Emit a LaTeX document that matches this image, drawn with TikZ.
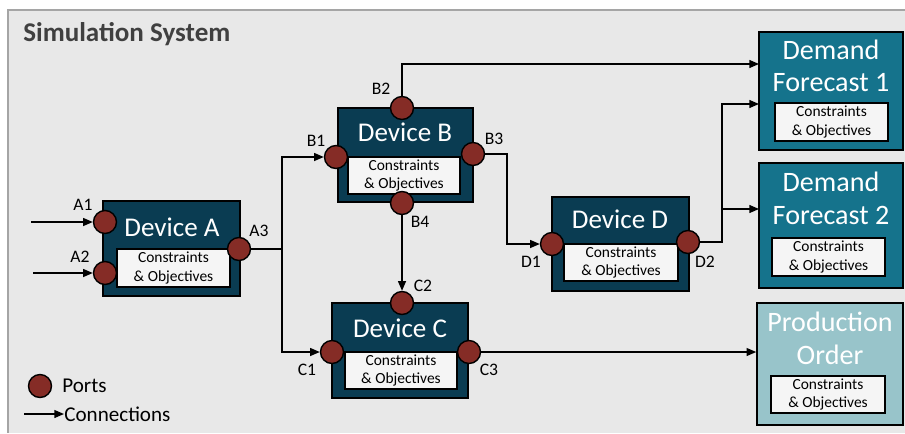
\documentclass[tikz,border=0pt]{standalone}
\usepackage{fontspec}
\setmainfont{Carlito}
\usetikzlibrary{arrows.meta, calc, positioning}
\definecolor{devnavy}{RGB}{10,60,82}
\definecolor{demandteal}{RGB}{21,115,140}
\definecolor{ordermint}{RGB}{152,196,202}
\definecolor{portred}{RGB}{133,44,38}
\definecolor{panelgray}{RGB}{232,232,232}
\definecolor{panelline}{RGB}{165,165,165}
\definecolor{titlegray}{RGB}{64,64,64}
\definecolor{cofill}{RGB}{245,245,245}

\begin{document}
\begin{tikzpicture}[x=0.02cm, y=-0.02cm,
    device/.style={draw=black, line width=0.9pt, fill=devnavy, inner sep=0pt},
    cobox/.style={draw=black, line width=0.6pt, fill=cofill, inner sep=0pt, align=center, font=\fontsize{8.8}{10.8}\selectfont},
    devtitle/.style={text=white, font=\fontsize{15.4}{18}\selectfont, inner sep=0pt},
    endtitle/.style={text=white, align=center, font=\fontsize{16}{18.6}\selectfont, inner sep=0pt},
    port/.style={circle, draw=black, line width=0.8pt, fill=portred, minimum size=0.46cm, inner sep=0pt},
    portlabel/.style={font=\fontsize{10}{12}\selectfont, inner sep=0pt},
    legendtext/.style={anchor=west, font=\fontsize{12}{14}\selectfont, inner sep=0pt},
    wire/.style={line width=0.8pt},
    conn/.style={line width=0.8pt, -{Triangle[length=5.5pt, width=4.5pt]}}]
    \useasboundingbox (0,0) rectangle (905,433);

    % Panel
    \fill[panelgray] (8,10) rectangle (905,433);
    \draw[panelline, line width=0.8pt] (905,10) -- (8,10) -- (8,433);
    \node[anchor=base west, text=titlegray, font=\fontsize{15.4}{18}\selectfont\bfseries, inner sep=0pt] (title) at (23,41) {Simulation System};

    % Device A
    \node[device, minimum width=2.74cm, minimum height=1.9cm] (devA) at (171.5,248.5) {};
    \node[devtitle] (devAname) at (172,227) {Device A};
    \node[cobox, minimum width=2.26cm, minimum height=0.76cm] (devAco) at (173.5,268) {Constraints\\\& Objectives};
    \node[port] (A1) at (105,222) {};
    \node[port] (A2) at (105,273) {};
    \node[port] (A3) at (239,249) {};
    \node[portlabel] (A1lab) at (83,205) {A1};
    \node[portlabel] (A2lab) at (80,257) {A2};
    \node[portlabel] (A3lab) at (259,231) {A3};

    % Device B
    \node[device, minimum width=2.7cm, minimum height=1.88cm] (devB) at (405.5,155) {};
    \node[devtitle] (devBname) at (405,132) {Device B};
    \node[cobox, minimum width=2.24cm, minimum height=0.74cm] (devBco) at (404,175.5) {Constraints\\\& Objectives};
    \node[port] (B1) at (336,157) {};
    \node[port] (B2) at (402,108) {};
    \node[port] (B3) at (473,154) {};
    \node[port] (B4) at (402,203) {};
    \node[portlabel] (B1lab) at (316,141) {B1};
    \node[portlabel] (B2lab) at (381,89) {B2};
    \node[portlabel] (B3lab) at (494,139) {B3};
    \node[portlabel] (B4lab) at (420,222) {B4};

    % Device C
    \node[device, minimum width=2.72cm, minimum height=1.9cm] (devC) at (400,350.5) {};
    \node[devtitle] (devCname) at (400,328) {Device C};
    \node[cobox, minimum width=2.24cm, minimum height=0.74cm] (devCco) at (401,370.5) {Constraints\\\& Objectives};
    \node[port] (C1) at (332,352) {};
    \node[port] (C2) at (402,303) {};
    \node[port] (C3) at (469,352) {};
    \node[portlabel] (C1lab) at (307,370) {C1};
    \node[portlabel] (C2lab) at (423,286) {C2};
    \node[portlabel] (C3lab) at (489,370) {C3};

    % Device D
    \node[device, minimum width=2.74cm, minimum height=1.88cm] (devD) at (620.5,244) {};
    \node[devtitle] (devDname) at (620,219) {Device D};
    \node[cobox, minimum width=2.28cm, minimum height=0.74cm] (devDco) at (621,262.5) {Constraints\\\& Objectives};
    \node[port] (D1) at (552,244) {};
    \node[port] (D2) at (688,242) {};
    \node[portlabel] (D1lab) at (531,262) {D1};
    \node[portlabel] (D2lab) at (705,262) {D2};

    % Sinks
    \node[device, fill=demandteal, minimum width=2.88cm, minimum height=2.36cm] (DF1) at (831,91) {};
    \node[endtitle] (DF1name) at (831,66) {Demand\\Forecast 1};
    \node[cobox, minimum width=2.26cm, minimum height=0.76cm] (DF1co) at (831.5,122) {Constraints\\\& Objectives};
    \node[device, fill=demandteal, minimum width=2.88cm, minimum height=2.5cm] (DF2) at (831,225.5) {};
    \node[endtitle] (DF2name) at (831,198.5) {Demand\\Forecast 2};
    \node[cobox, minimum width=2.26cm, minimum height=0.76cm] (DF2co) at (828.5,257) {Constraints\\\& Objectives};
    \node[device, fill=ordermint, minimum width=2.92cm, minimum height=2.44cm] (PO) at (830,364) {};
    \node[endtitle] (POname) at (830,338.5) {Production\\Order};
    \node[cobox, minimum width=2.28cm, minimum height=0.74cm] (POco) at (828,394.5) {Constraints\\\& Objectives};

    % Connections
    \coordinate (inA1) at (31,222);
    \coordinate (inA2) at (33,273);
    \coordinate (splitA) at (282,249);
    \coordinate (bendB) at (507,244);
    \coordinate (splitD) at (722,242);
    \coordinate (DF1in1) at (759,64);
    \coordinate (DF1in2) at (759,104);
    \coordinate (DF2in) at (759,209);
    \draw[conn] (inA1) -- (A1);
    \draw[conn] (inA2) -- (A2);
    \draw[wire] (A3) -- (splitA);
    \draw[conn] (splitA) |- (B1);
    \draw[conn] (splitA) |- (C1);
    \draw[conn] (B2) |- (DF1in1);
    \draw[conn] (B3) -| (bendB) -- (D1);
    \draw[conn] (B4) -- (C2);
    \draw[conn] (D2) -- (splitD) |- (DF1in2);
    \draw[conn] (DF2in -| splitD) -- (DF2in);
    \draw[conn] (C3) -- (C3 -| PO.west);

    % Legend
    \node[port] (legport) at (40,386) {};
    \node[legendtext] (legports) at (62,386) {Ports};
    \node[legendtext] (legconn) at (64,414) {Connections};
    \coordinate (legstart) at (24,414);
    \draw[conn] (legstart) -- (legconn.west);
\end{tikzpicture}
\end{document}
